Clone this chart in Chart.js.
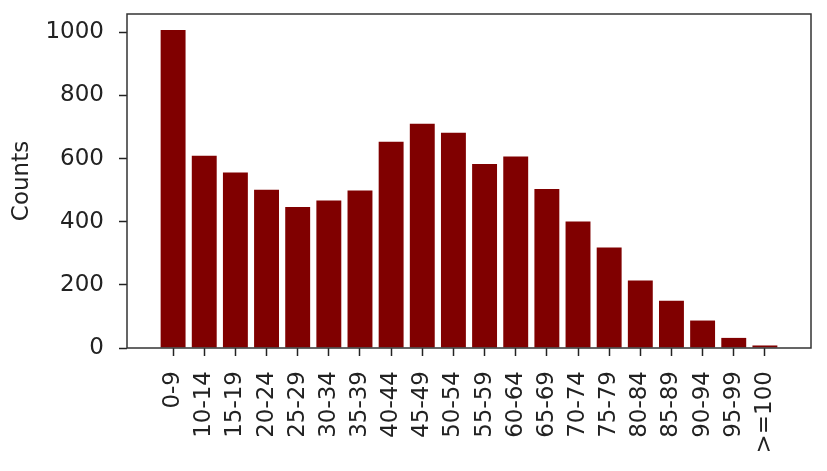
<!DOCTYPE html>
<html>
<head>
<meta charset="utf-8">
<script src="https://cdn.jsdelivr.net/npm/chart.js@4"></script>
<style>
  html, body { margin: 0; padding: 0; background: #fff; }
  #wrap { width: 827px; height: 471px; position: relative; }
</style>
</head>
<body>
<div id="wrap"><canvas id="chart"></canvas></div>
<script>
// 연령대별 건수 막대 차트
const AGE_GROUPS = ['0-9', '10-14', '15-19', '20-24', '25-29', '30-34', '35-39',
  '40-44', '45-49', '50-54', '55-59', '60-64', '65-69', '70-74', '75-79',
  '80-84', '85-89', '90-94', '95-99', '>=100'];
const COUNTS = [1007, 609, 556, 501, 447, 467, 499, 653, 710, 682, 583,
  607, 504, 401, 318, 214, 150, 87, 32, 8];
const Y_TICKS = [0, 200, 400, 600, 800, 1000];

const BAR  = '#800000';
const INK  = '#222222';
const FONT = "'DejaVu Sans', sans-serif";

Chart.defaults.font.family = FONT;
Chart.defaults.color = INK;

// 사방 테두리 (matplotlib 스타일)
const frame = {
  id: 'frame',
  afterDraw(chart) {
    const { ctx, chartArea: a } = chart;
    ctx.save();
    ctx.strokeStyle = '#333';
    ctx.lineWidth = 1.5;
    ctx.strokeRect(a.left, a.top, a.right - a.left, a.bottom - a.top);
    ctx.restore();
  },
};

// 축 라벨 때문에 생기는 여백 제거
function noPad(s) {
  s.paddingTop = 0;
  s.paddingBottom = 0;
  s.paddingLeft = 0;
  s.paddingRight = 0;
}

new Chart(document.getElementById('chart'), {
  type: 'bar',
  data: {
    datasets: [{
      data: COUNTS.map((v, i) => ({ x: i, y: v })),
      backgroundColor: BAR,
      borderWidth: 0,
      barPercentage: 0.8,
      categoryPercentage: 1,
    }],
  },
  options: {
    responsive: true,
    maintainAspectRatio: false,
    animation: false,
    layout: { padding: { top: 14, right: 16, left: 0, bottom: 0 } },
    plugins: { legend: { display: false }, tooltip: { enabled: false } },
    scales: {
      x: {
        type: 'linear',
        offset: false,
        min: -1.48,
        max: AGE_GROUPS.length - 1 + 1.48,
        afterBuildTicks: s => { s.ticks = AGE_GROUPS.map((_, i) => ({ value: i })); },
        afterFit: s => { s.height = 123; noPad(s); },
        grid: { offset: false, drawOnChartArea: false, tickLength: 8, tickColor: INK, tickWidth: 1.5 },
        border: { display: false },
        ticks: {
          autoSkip: false,
          minRotation: 90,
          maxRotation: 90,
          padding: 15,
          color: INK,
          font: { size: 23 },
          callback: v => AGE_GROUPS[v] ?? '',
        },
      },
      y: {
        min: 0,
        max: 1058,
        afterBuildTicks: s => { s.ticks = Y_TICKS.map(v => ({ value: v })); },
        afterFit: s => { s.width = 127; noPad(s); },
        grid: { drawOnChartArea: false, tickLength: 8, tickColor: INK, tickWidth: 1.5 },
        border: { display: false },
        ticks: { padding: 15, color: INK, font: { size: 23 }, callback: v => String(v) },
        title: {
          display: true,
          text: 'Counts',
          color: INK,
          font: { size: 23 },
          padding: { top: 8, bottom: 0 },
        },
      },
    },
  },
  plugins: [frame],
});
</script>
</body>
</html>
